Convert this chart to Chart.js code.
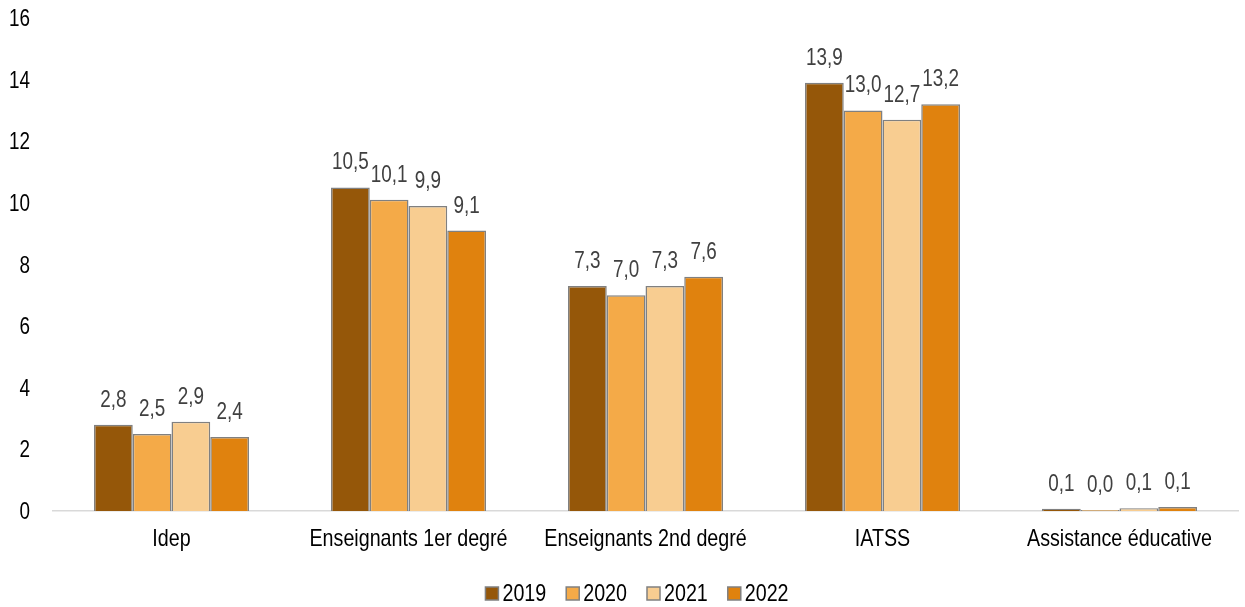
<!DOCTYPE html>
<html>
<head>
<meta charset="utf-8">
<script src="https://cdn.jsdelivr.net/npm/chart.js@4.4.1/dist/chart.umd.min.js"></script>
<style>
  html, body { margin: 0; padding: 0; background: #fff; }
  #wrap { width: 1245px; height: 607px; position: relative; }
</style>
</head>
<body>
<div id="wrap"><canvas id="myChart"></canvas></div>
<script>
// categories and values
const categories = ['Idep', 'Enseignants 1er degré', 'Enseignants 2nd degré', 'IATSS', 'Assistance éducative'];
const years = ['2019', '2020', '2021', '2022'];
const values2019 = [2.8, 10.5, 7.3, 13.9, 0.07];
const values2020 = [2.5, 10.1, 7.0, 13.0, 0.03];
const values2021 = [2.9, 9.9, 7.3, 12.7, 0.09];
const values2022 = [2.4, 9.1, 7.6, 13.2, 0.13];
const yTicks = [0, 2, 4, 6, 8, 10, 12, 14, 16];

const colors = ['#955709', '#F4AA48', '#F8CD91', '#E0820E'];
const allValues = [values2019, values2020, values2021, values2022];

// no narrow font installed, so squeeze Liberation Sans horizontally
const FONT = '"Liberation Sans", Arial, sans-serif';
const SQUEEZE = 0.82;

function narrowText(ctx, txt, x, y, size, align, color) {
    ctx.save();
    ctx.font = size + 'px ' + FONT;
    ctx.fillStyle = color;
    ctx.textAlign = align;
    ctx.textBaseline = 'alphabetic';
    ctx.translate(x, y);
    ctx.scale(SQUEEZE, 1);
    ctx.fillText(txt, 0, 0);
    ctx.restore();
}

function narrowWidth(ctx, txt, size) {
    ctx.save();
    ctx.font = size + 'px ' + FONT;
    const w = ctx.measureText(txt).width * SQUEEZE;
    ctx.restore();
    return w;
}

// axis ticks, value labels and legend drawn by hand
const textPlugin = {
    id: 'textPlugin',
    afterDraw(chart) {
        const ctx = chart.ctx;
        const xs = chart.scales.x, ys = chart.scales.y;

        // y ticks
        yTicks.forEach(v => {
            narrowText(ctx, String(v), 30, ys.getPixelForValue(v) + 8, 23, 'right', '#000');
        });

        // x ticks
        categories.forEach((c, i) => {
            narrowText(ctx, c, xs.getPixelForValue(i), 546, 24, 'center', '#000');
        });

        // value labels above bars
        chart.data.datasets.forEach((ds, i) => {
            chart.getDatasetMeta(i).data.forEach((bar, j) => {
                const txt = ds.data[j].toFixed(1).replace('.', ',');
                narrowText(ctx, txt, bar.x, bar.y - 18, 23, 'center', '#404040');
            });
        });

        // legend
        const box = 13, gap = 4, itemGap = 20, size = 24;
        const widths = years.map(y => box + gap + narrowWidth(ctx, y, size));
        const total = widths.reduce((a, b) => a + b, 0) + itemGap * (years.length - 1);
        let x = 637 - total / 2;
        years.forEach((y, i) => {
            ctx.save();
            ctx.fillStyle = colors[i];
            ctx.strokeStyle = '#808080';
            ctx.lineWidth = 1.5;
            ctx.fillRect(x, 587, box, box);
            ctx.strokeRect(x, 587, box, box);
            ctx.restore();
            narrowText(ctx, y, x + box + gap, 601, size, 'left', '#000');
            x += widths[i] + itemGap;
        });
    }
};

var ctx = document.getElementById('myChart').getContext('2d');
var myChart = new Chart(ctx, {
    type: 'bar',
    data: {
        labels: categories,
        datasets: years.map((y, i) => ({
            label: y,
            data: allValues[i],
            backgroundColor: colors[i],
            borderColor: '#808080',
            borderWidth: 1.5,
            borderSkipped: 'bottom',
            categoryPercentage: 0.654,
            barPercentage: 1.0
        }))
    },
    options: {
        responsive: true,
        maintainAspectRatio: false,
        animation: false,
        layout: { padding: { top: 18, right: 7, left: 0, bottom: 0 } },
        scales: {
            x: {
                grid: { display: false },
                border: { color: '#d9d9d9', width: 1.5 },
                ticks: { display: false },
                afterFit: (s) => { s.height = 96; s.paddingLeft = 0; s.paddingRight = 0; }
            },
            y: {
                min: 0,
                max: 16,
                afterBuildTicks: (axis) => { axis.ticks = yTicks.map(v => ({ value: v })); },
                grid: { display: false },
                border: { display: false },
                ticks: { display: false },
                afterFit: (s) => { s.width = 53; s.paddingTop = 0; s.paddingBottom = 0; }
            }
        },
        plugins: {
            legend: { display: false },
            tooltip: { enabled: false }
        }
    },
    plugins: [textPlugin]
});
</script>
</body>
</html>
